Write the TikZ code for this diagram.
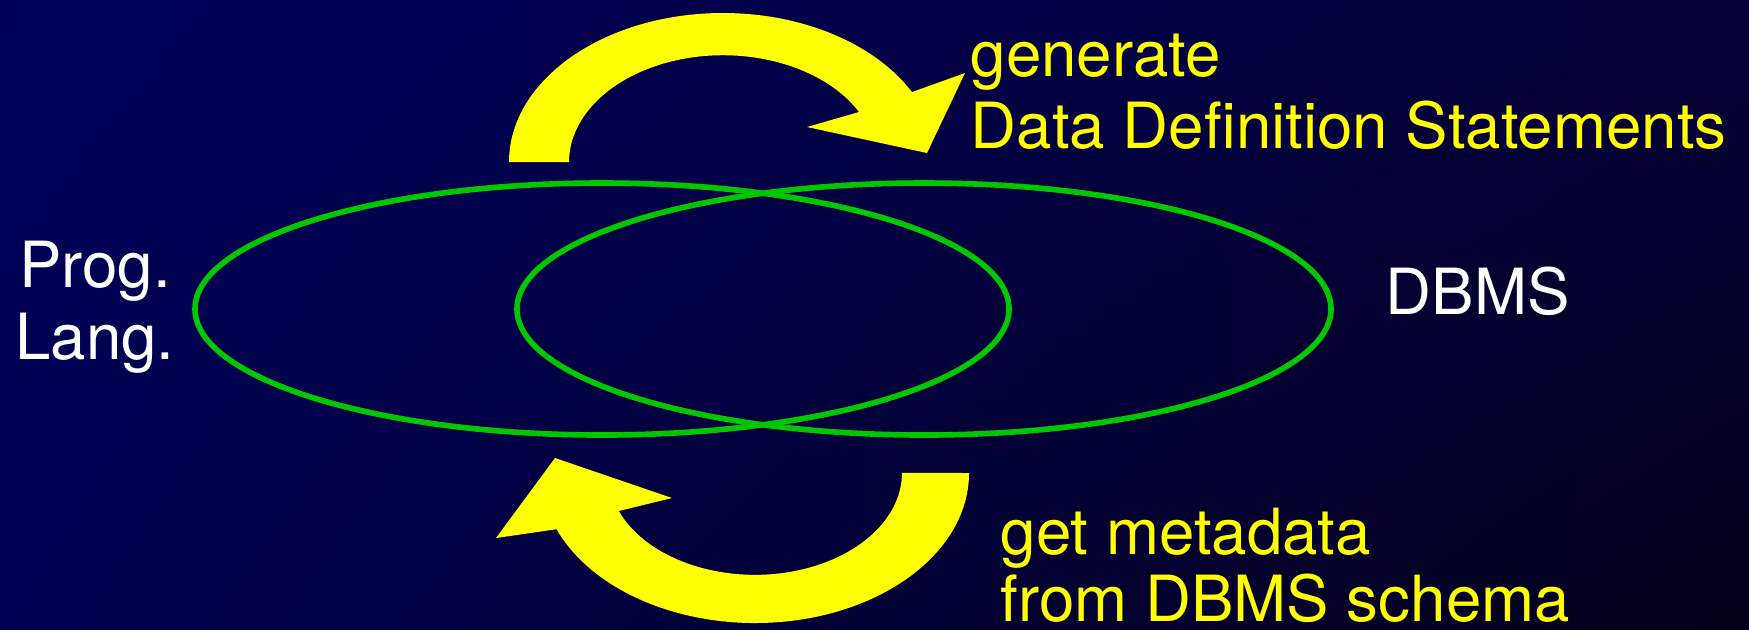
\documentclass[tikz,border=0pt]{standalone}
\usepackage{fontspec}
\setmainfont{TeX Gyre Heros}
\usepackage{tikz}
\usetikzlibrary{shadings}
\tikzstyle{slide} = [x = .01cm, y = -.01cm]
\definecolor{slideTopLeft}{RGB}{0,0,90}
\definecolor{slideTopRight}{RGB}{5,0,55}
\definecolor{slideBottomLeft}{RGB}{0,0,80}
\definecolor{slideBottomRight}{RGB}{5,0,25}
\definecolor{setGreen}{RGB}{0,200,0}
\definecolor{flowYellow}{RGB}{255,255,0}
\tikzstyle{setStyle} = [color=setGreen, line width=1.6pt]
\tikzstyle{flowStyle} = [fill=flowYellow]
\tikzstyle{sideText} = [text=white, inner sep=0, anchor=base, font=\fontsize{18.1}{20.5}\selectfont]
\tikzstyle{flowText} = [sideText, text=flowYellow, anchor=base west]
\newcommand{\slideW}{1749}
\newcommand{\slideH}{629}

\begin{document}
\begin{tikzpicture}[slide]
  % background
  \useasboundingbox (0,0) rectangle (\slideW,\slideH);
  \shade [upper left=slideTopLeft, upper right=slideTopRight,
          lower left=slideBottomLeft, lower right=slideBottomRight]
    (0,0) rectangle (\slideW,\slideH);
  % the two overlapping sets
  \draw [setStyle] (602,309) ellipse [x radius=407, y radius=126];
  \draw [setStyle] (924,309) ellipse [x radius=407, y radius=126];
  % upper arrow, clockwise
  \fill [flowStyle] (509,162) arc [start angle=180, end angle=332, x radius=214, y radius=149]
    -- (965,73) -- (927,153) -- (807,127) -- (859,112)
    arc [start angle=332, end angle=180, x radius=154, y radius=107] -- cycle;
  % lower arrow, back again
  \fill [flowStyle] (969,473) arc [start angle=0, end angle=158, x radius=214, y radius=150]
    -- (496,538) -- (555,458) -- (672,498) -- (618.7,511)
    arc [start angle=158, end angle=0, x radius=147, y radius=102] -- cycle;
  % labels
  \node [sideText] (prog) at (95,287) {Prog.};
  \node [sideText] (lang) at (95,359) {Lang.};
  \node [sideText, anchor=base west] (dbms) at (1385,314) {DBMS};
  \node [flowText] (gen) at (970,76) {generate};
  \node [flowText] (ddl) at (970,148) {Data Definition Statements};
  \node [flowText] (meta) at (1000,554) {get metadata};
  \node [flowText] (schema) at (1000,621) {from DBMS schema};
\end{tikzpicture}
\end{document}
